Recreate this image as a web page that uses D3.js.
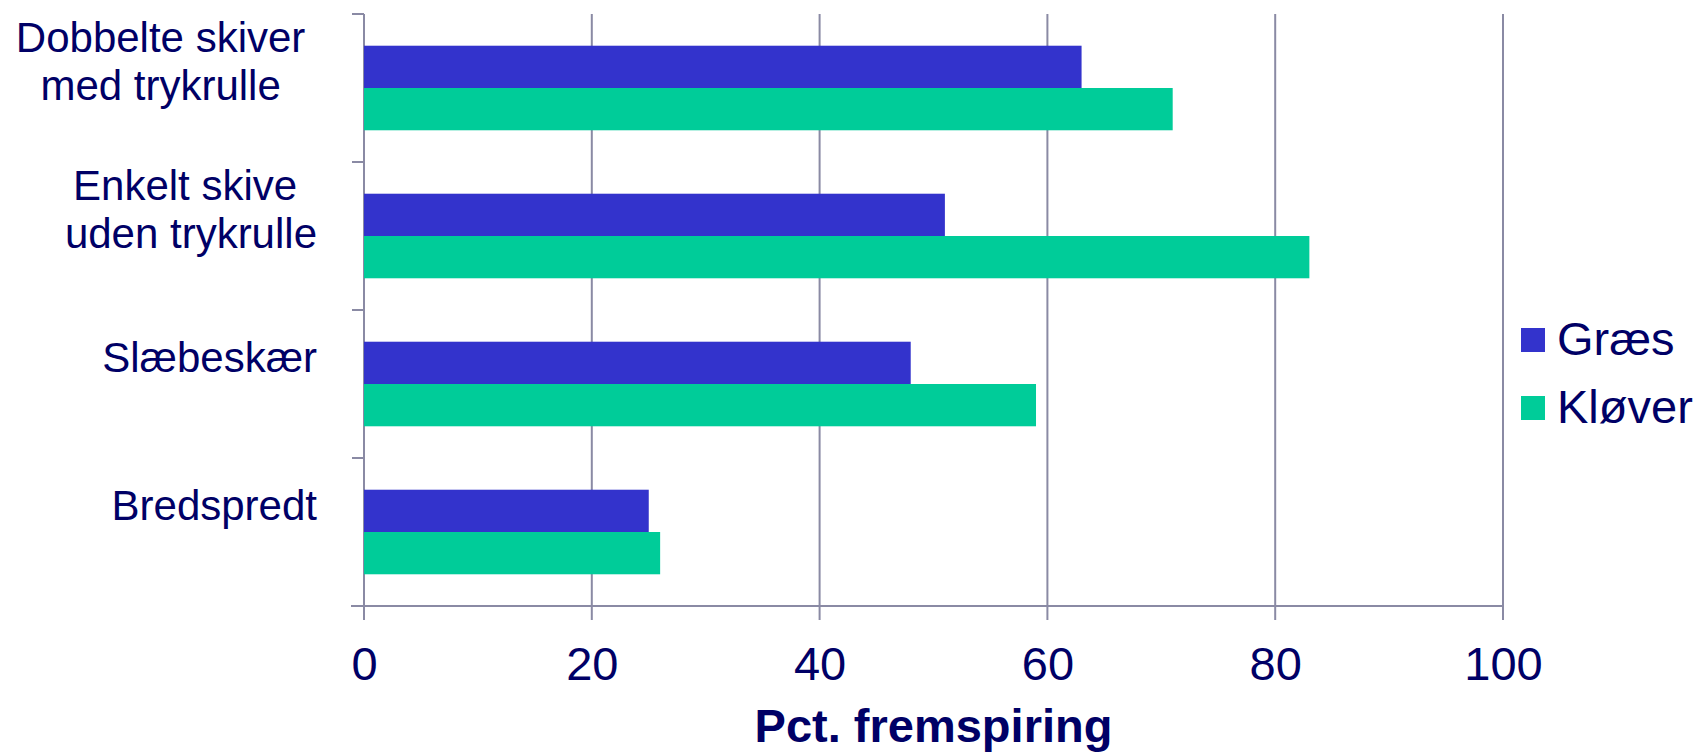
<!DOCTYPE html>
<html>
<head>
<meta charset="utf-8">
<script src="https://cdn.jsdelivr.net/npm/d3@7"></script>
<style>
  html, body { margin: 0; padding: 0; background: #ffffff; }
  svg { display: block; font-family: "Liberation Sans", Arial, sans-serif; }
  .pre { white-space: pre; }
</style>
</head>
<body>
<svg id="chart" width="1698" height="752"></svg>
<script>
// Sowing method categories (wrapped label lines separated by "\n")
const categories = [
  "Dobbelte skiver \nmed trykrulle ",
  "Enkelt skive \nuden trykrulle",
  "Slæbeskær",
  "Bredspredt"
];
const seriesNames = ["Græs", "Kløver"];
const graesValues = [63, 51, 48, 25];
const kloverValues = [71, 83, 59, 26];
const xTicks = [0, 20, 40, 60, 80, 100];
const xTitle = "Pct. fremspiring";

const colors = { "Græs": "#3333cc", "Kløver": "#00cc99" };
const textColor = "#000066";
const lineColor = "#8a8aa4";

const rows = categories.map((c, i) => ({ cat: c, "Græs": graesValues[i], "Kløver": kloverValues[i] }));

const svg = d3.select("#chart");
const plot = { left: 364, right: 1503, top: 14, bottom: 606 };

const x = d3.scaleLinear().domain([0, 100]).range([plot.left, plot.right]);
const gap = 1.5 / 3.5;
const y = d3.scaleBand().domain(categories).range([plot.top, plot.bottom])
  .paddingInner(gap).paddingOuter(gap / 2);
const ySub = d3.scaleBand().domain(seriesNames).range([0, y.bandwidth()]);

// vertical gridlines (extended below the axis as tick marks)
svg.append("g").selectAll("line").data(xTicks).join("line")
  .attr("x1", d => x(d)).attr("x2", d => x(d))
  .attr("y1", plot.top).attr("y2", plot.bottom + 14)
  .attr("stroke", lineColor).attr("stroke-width", 2);

// category boundary ticks on the left axis
const step = y.step();
svg.append("g").selectAll("line").data(categories).join("line")
  .attr("x1", plot.left - 12).attr("x2", plot.left)
  .attr("y1", d => y(d) - y.paddingInner() * step / 2)
  .attr("y2", d => y(d) - y.paddingInner() * step / 2)
  .attr("stroke", lineColor).attr("stroke-width", 2);

// bars
const groups = svg.append("g").selectAll("g").data(rows).join("g")
  .attr("transform", d => `translate(0,${y(d.cat)})`);
groups.selectAll("rect").data(d => seriesNames.map(s => ({ s, v: d[s] }))).join("rect")
  .attr("x", x(0))
  .attr("y", d => ySub(d.s))
  .attr("width", d => x(d.v) - x(0))
  .attr("height", ySub.bandwidth())
  .attr("fill", d => colors[d.s]);

// x axis line (runs a little past the left axis)
svg.append("line")
  .attr("x1", plot.left - 13).attr("x2", plot.right)
  .attr("y1", plot.bottom).attr("y2", plot.bottom)
  .attr("stroke", lineColor).attr("stroke-width", 2);

// x tick labels via axis generator
const xAxis = d3.axisBottom(x).tickValues(xTicks).tickSize(0).tickFormat(d3.format("d"));
const gx = svg.append("g").attr("transform", `translate(0,${plot.bottom})`).call(xAxis);
gx.select(".domain").remove();
gx.selectAll("text")
  .attr("y", 74).attr("dy", null)
  .attr("fill", textColor)
  .style("font-size", "47px")
  .style("font-family", "'Liberation Sans', Arial, sans-serif");

// category labels: block right-aligned, lines centered inside
const labelRight = plot.left - 47;
const labels = svg.append("g");
categories.forEach(c => {
  const lines = c.split("\n");
  const cy = y(c) + y.bandwidth() / 2;
  const t = labels.append("text").attr("fill", textColor)
    .style("font-size", "42px").attr("text-anchor", "middle");
  const spans = lines.map((ln, i) => t.append("tspan").attr("class", "pre")
    .attr("y", cy - 12 + (i - (lines.length - 1) / 2) * 48).text(ln));
  const w = d3.max(spans, s => s.node().getComputedTextLength());
  spans.forEach(s => s.attr("x", labelRight - w / 2));
});

// axis title
svg.append("text")
  .attr("x", (plot.left + plot.right) / 2).attr("y", 742)
  .attr("text-anchor", "middle").attr("fill", textColor)
  .style("font-size", "47px").style("font-weight", "bold")
  .text(xTitle);

// legend
const legend = svg.append("g").selectAll("g").data(seriesNames).join("g")
  .attr("transform", (d, i) => `translate(1521,${355 + i * 68})`);
legend.append("rect").attr("x", 0).attr("y", -27).attr("width", 24).attr("height", 24)
  .attr("fill", d => colors[d]);
legend.append("text").attr("x", 36).attr("y", 0).attr("fill", textColor)
  .style("font-size", "47px").text(d => d);
</script>
</body>
</html>
